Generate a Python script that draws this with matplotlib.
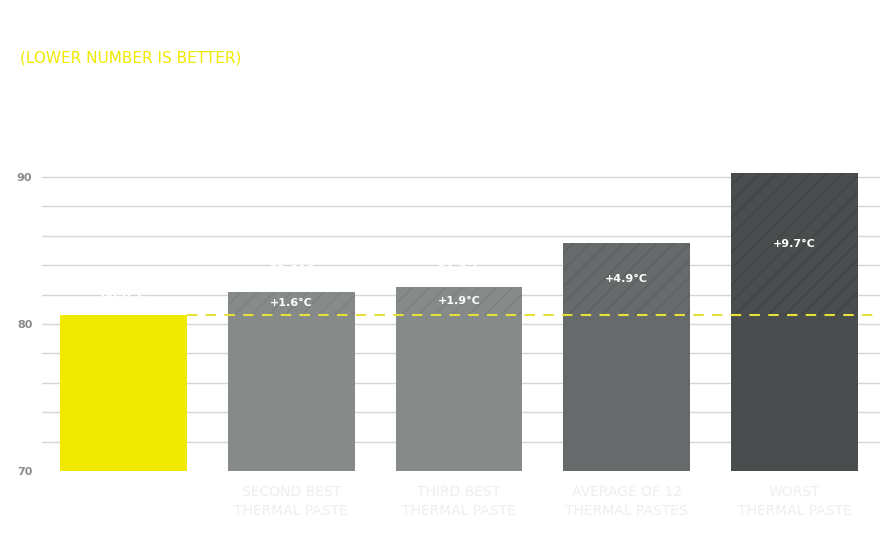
import matplotlib.pyplot as plt

# values (CPU temperature, deg C)
categories = ['ARCTIC\nMX-6', 'SECOND BEST\nTHERMAL PASTE', 'THIRD BEST\nTHERMAL PASTE',
              'AVERAGE OF 12\nTHERMAL PASTES', 'WORST\nTHERMAL PASTE']
temps = [80.6, 82.2, 82.5, 85.5, 90.3]
y_ticks = [70, 80, 90]
grid_levels = [72, 74, 76, 78, 80, 82, 84, 86, 88, 90]

bar_colors = ['#f0e900', '#868a89', '#868a89', '#676a6b', '#4a4d4d']
hatch_colors = ['#f0e900', '#7a7e7d', '#7a7e7d', '#5c5f60', '#3f4242']
label_colors = ['#ffffff', '#eeeeee', '#eeeeee', '#eeeeee', '#eeeeee']

plt.rcParams['hatch.linewidth'] = 0.8

fig = plt.figure(figsize=(8.9, 5.53), dpi=100)
fig.patch.set_facecolor('white')
ax = fig.add_axes([0.0472, 0.1483, 0.9416, 0.5847])

baseline = temps[0]
x = list(range(len(temps)))
width = 0.757

for level in grid_levels:
    ax.axhline(level, color='#d6d6d6', linewidth=1, zorder=0)

for i, t in enumerate(temps):
    if i == 0:
        ax.bar(i, t - 70, bottom=70, width=width, color=bar_colors[i], linewidth=0, zorder=2)
    else:
        ax.bar(i, baseline - 70, bottom=70, width=width, color=bar_colors[i], linewidth=0, zorder=2)
        ax.bar(i, t - baseline, bottom=baseline, width=width, color=bar_colors[i],
               edgecolor=hatch_colors[i], hatch='//', linewidth=0, zorder=2)
        ax.text(i, (t + baseline) / 2, f'+{t - baseline:.1f}°C', color='white',
                fontsize=8, fontweight='bold', ha='center', va='center', zorder=4)
    # value label (white, as in the original)
    ax.text(i, t + 1.0, f'{t:.1f}°C', color='white', fontsize=9, fontweight='bold',
            ha='center', va='bottom', zorder=4)

# baseline dashed line from the right edge of the first bar
ax.plot([width / 2, 4.51], [baseline, baseline], color='#e6e03a', linewidth=1.5,
        linestyle=(0, (5, 4)), zorder=3)

ax.set_xlim(-0.486, 4.51)
ax.set_ylim(70, 92)
ax.set_yticks(y_ticks)
ax.set_yticklabels([str(v) for v in y_ticks], color='#8a8a8a', fontsize=8, fontweight='bold')
ax.tick_params(axis='y', length=0, pad=7)
ax.set_xticks(x)
ax.set_xticklabels(categories, fontsize=10, linespacing=1.5)
for lbl, c in zip(ax.get_xticklabels(), label_colors):
    lbl.set_color(c)
ax.tick_params(axis='x', length=0, pad=10)
for s in ax.spines.values():
    s.set_visible(False)
ax.set_facecolor('none')

fig.text(0.0225, 0.933, 'CPU TEMPERATURE UNDER LOAD', color='white', fontsize=15,
         fontweight='bold', va='center')
fig.text(0.0225, 0.895, '(LOWER NUMBER IS BETTER)', color='#f0e900', fontsize=11,
         va='center')
fig.text(0.0225, 0.828, 'AVERAGE CPU TEMPERATURE AFTER 30 MINUTES OF STRESS TESTING',
         color='white', fontsize=12, fontweight='bold', va='center')
fig.text(0.0225, 0.800, 'Ambient temperature kept constant during all test runs',
         color='white', fontsize=8, va='center')

fig.savefig('out.png', dpi=100)
